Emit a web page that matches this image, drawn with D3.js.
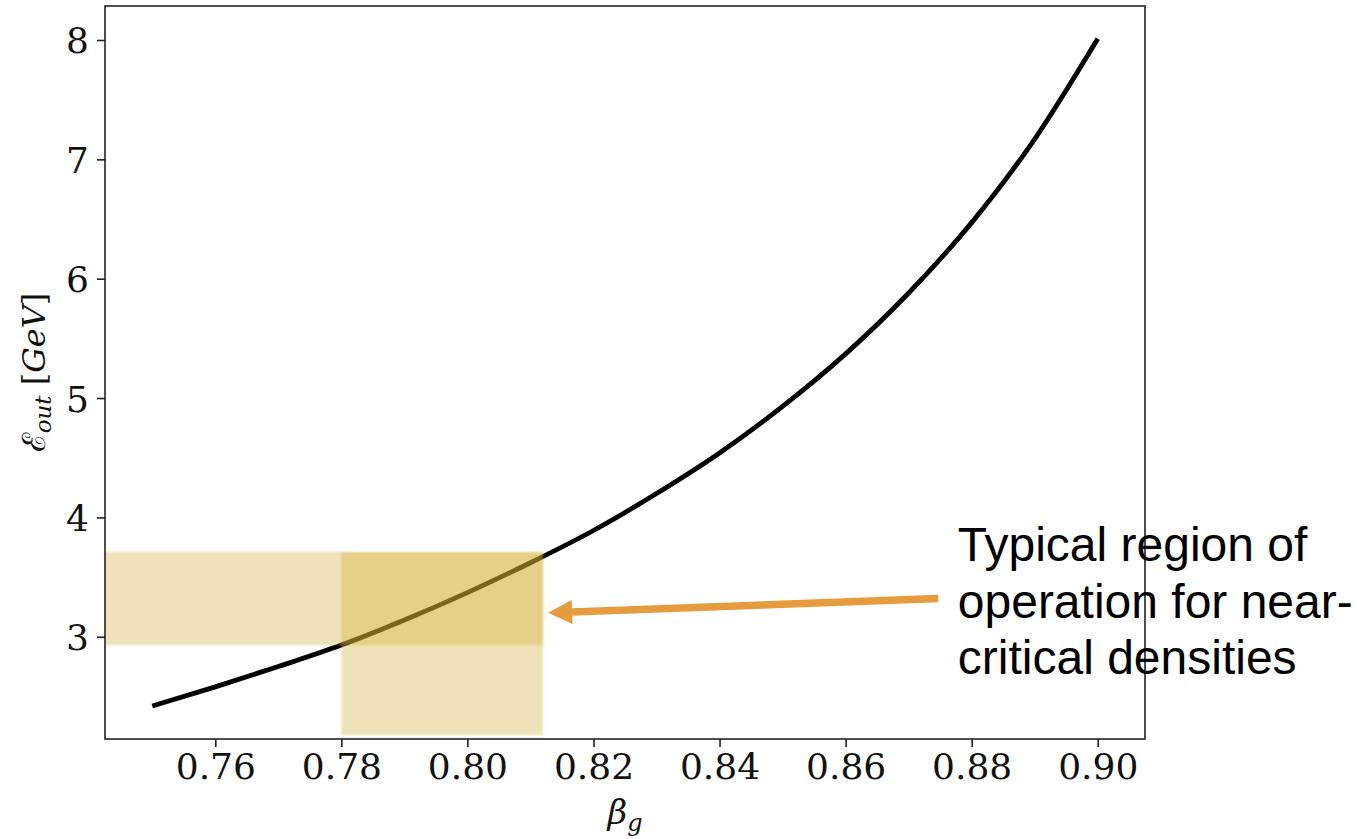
<!DOCTYPE html>
<html>
<head>
<meta charset="utf-8">
<script src="https://cdn.jsdelivr.net/npm/d3@7/dist/d3.min.js"></script>
<style>
  html, body { margin: 0; padding: 0; background: #ffffff; }
  svg { display: block; }
</style>
</head>
<body>
<svg id="chart" width="1357" height="839"></svg>
<script>
// Output energy vs. group velocity (beta_g)
const betaValues   = [0.75, 0.76, 0.77, 0.78, 0.79, 0.80, 0.81, 0.82, 0.83, 0.84, 0.85, 0.86, 0.87, 0.88, 0.89, 0.90];
const energyValues = [2.42, 2.58, 2.75, 2.93, 3.14, 3.37, 3.62, 3.89, 4.20, 4.54, 4.93, 5.37, 5.88, 6.47, 7.17, 8.01];

const xTickValues = [0.76, 0.78, 0.80, 0.82, 0.84, 0.86, 0.88, 0.90];
const yTickValues = [3, 4, 5, 6, 7, 8];

// Typical operating window
const regionBeta   = [0.78, 0.812];
const regionEnergy = [2.93, 3.71];
const regionFloor  = 2.175;

// Annotation
const noteLines  = ["Typical region of", "operation for near-", "critical densities"];
const noteAnchor = [0.8778, 3.634];
const arrowFrom  = [0.8747, 3.32];
const arrowTo    = [0.8128, 3.20];

const svg = d3.select("#chart");
const plotLeft = 105, plotRight = 1145, plotTop = 6, plotBottom = 739;

const x = d3.scaleLinear().domain([0.7425, 0.9075]).range([plotLeft, plotRight]);
const y = d3.scaleLinear().domain([2.143, 8.285]).range([plotBottom, plotTop]);

const defs = svg.append("defs");
defs.append("filter").attr("id", "soft")
  .attr("x", "-5%").attr("y", "-5%").attr("width", "110%").attr("height", "110%")
  .append("feGaussianBlur").attr("stdDeviation", 0.9);

// Curve
const line = d3.line()
  .x((d, i) => x(betaValues[i]))
  .y(d => y(d))
  .curve(d3.curveMonotoneX);

svg.append("path")
  .datum(energyValues)
  .attr("d", line)
  .attr("fill", "none")
  .attr("stroke", "#000")
  .attr("stroke-width", 4.8)
  .attr("stroke-linecap", "butt");

// Shaded operating window (horizontal and vertical bands)
const bands = svg.append("g").attr("filter", "url(#soft)");
bands.append("rect")
  .attr("x", x(x.domain()[0]))
  .attr("y", y(regionEnergy[1]))
  .attr("width", x(regionBeta[1]) - x(x.domain()[0]))
  .attr("height", y(regionEnergy[0]) - y(regionEnergy[1]))
  .attr("fill", "rgb(212,172,49)")
  .attr("fill-opacity", 0.35);
bands.append("rect")
  .attr("x", x(regionBeta[0]))
  .attr("y", y(regionEnergy[1]))
  .attr("width", x(regionBeta[1]) - x(regionBeta[0]))
  .attr("height", y(regionFloor) - y(regionEnergy[1]))
  .attr("fill", "rgb(212,172,49)")
  .attr("fill-opacity", 0.35);

// Axes
const tickFont = "'DejaVu Serif', serif";
const xAxis = svg.append("g")
  .attr("transform", `translate(0,${plotBottom})`)
  .call(d3.axisBottom(x).tickValues(xTickValues).tickFormat(d3.format(".2f")).tickSizeOuter(0).tickSize(8).tickPadding(6));
const yAxis = svg.append("g")
  .attr("transform", `translate(${plotLeft},0)`)
  .call(d3.axisLeft(y).tickValues(yTickValues).tickFormat(d3.format("d")).tickSizeOuter(0).tickSize(8).tickPadding(8));

[xAxis, yAxis].forEach(g => {
  g.select(".domain").remove();
  g.selectAll(".tick line").attr("stroke", "#222").attr("stroke-width", 1.6);
  g.selectAll(".tick text")
    .attr("fill", "#111")
    .style("font-family", tickFont)
    .style("font-size", "36px");
});
yAxis.selectAll(".tick text").attr("dy", "0.36em");

// Frame
svg.append("rect")
  .attr("x", plotLeft).attr("y", plotTop)
  .attr("width", plotRight - plotLeft).attr("height", plotBottom - plotTop)
  .attr("fill", "none")
  .attr("stroke", "#222")
  .attr("stroke-width", 1.6);

// Axis labels
const xLabel = svg.append("text")
  .attr("x", (plotLeft + plotRight) / 2)
  .attr("y", 824)
  .attr("text-anchor", "middle")
  .style("font-family", tickFont)
  .style("font-size", "34px")
  .attr("fill", "#111");
xLabel.append("tspan").style("font-style", "italic").text("β");
xLabel.append("tspan").style("font-style", "italic").style("font-size", "24px").attr("dy", 7).text("g");

const yLabel = svg.append("text")
  .attr("transform", `translate(45,${(plotTop + plotBottom) / 2}) rotate(-90)`)
  .attr("text-anchor", "middle")
  .style("font-family", tickFont)
  .style("font-size", "32px")
  .attr("fill", "#111");
yLabel.append("tspan").text("ℰ");
yLabel.append("tspan").style("font-style", "italic").style("font-size", "23px").attr("dy", 6).text("out");
yLabel.append("tspan").attr("dy", -6).text(" [");
yLabel.append("tspan").style("font-style", "italic").text("GeV");
yLabel.append("tspan").text("]");

// Arrow
const orange = "#e69b3e";
const ax0 = x(arrowFrom[0]), ay0 = y(arrowFrom[1]);
const ax1 = x(arrowTo[0]),   ay1 = y(arrowTo[1]);
const ang = Math.atan2(ay1 - ay0, ax1 - ax0);
const headLen = 24, headHalf = 12;
const bx = ax1 - headLen * Math.cos(ang), by = ay1 - headLen * Math.sin(ang);
svg.append("line")
  .attr("x1", ax0).attr("y1", ay0)
  .attr("x2", bx).attr("y2", by)
  .attr("stroke", orange)
  .attr("stroke-width", 7.5);
const nx = -Math.sin(ang), ny = Math.cos(ang);
svg.append("path")
  .attr("d", `M${ax1},${ay1}L${bx + nx * headHalf},${by + ny * headHalf}L${bx - nx * headHalf},${by - ny * headHalf}Z`)
  .attr("fill", orange);

// Annotation text
const note = svg.append("text")
  .attr("x", x(noteAnchor[0]))
  .attr("y", y(noteAnchor[1]))
  .style("font-family", "'Liberation Sans', Arial, sans-serif")
  .style("font-size", "48px")
  .attr("fill", "#000");
noteLines.forEach((t, i) => {
  note.append("tspan")
    .attr("x", x(noteAnchor[0]))
    .attr("dy", i === 0 ? 0 : 56.5)
    .text(t);
});
</script>
</body>
</html>
